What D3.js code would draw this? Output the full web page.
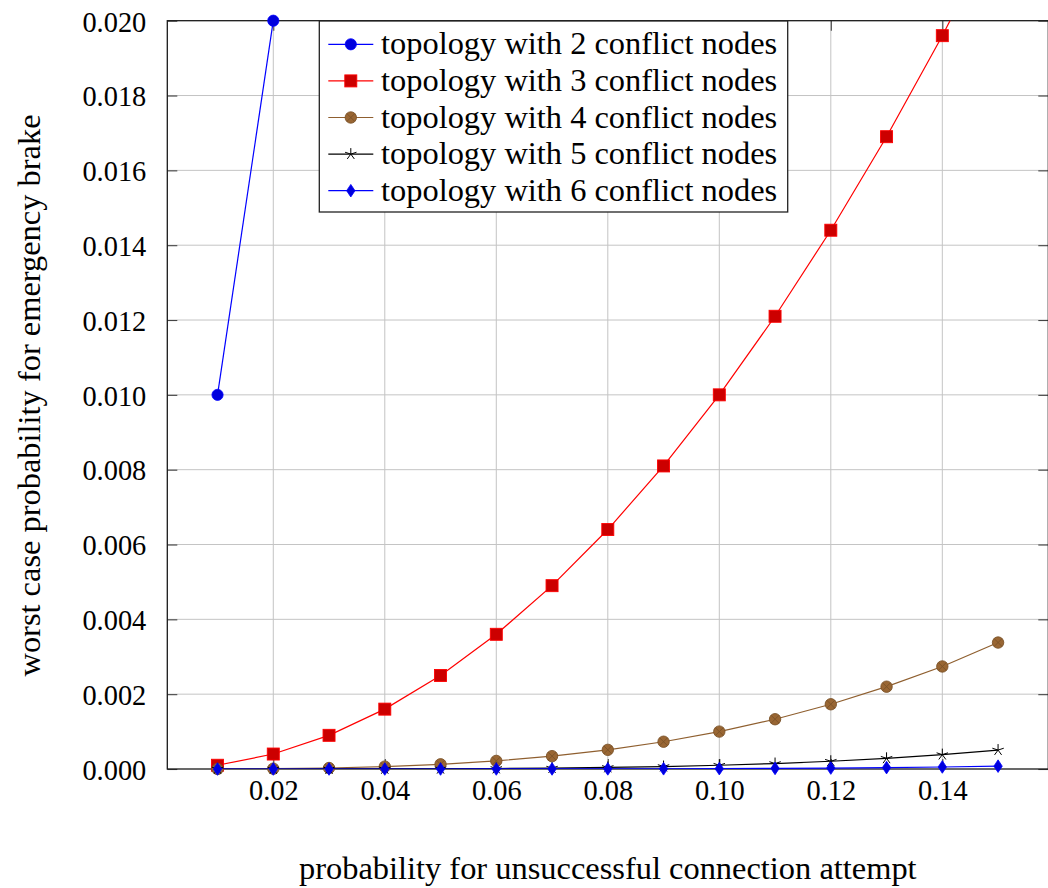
<!DOCTYPE html>
<html><head><meta charset="utf-8">
<script src="https://cdn.jsdelivr.net/npm/d3@7"></script>
<style>body{margin:0;background:#fff} svg{display:block} svg text{font-family:'Liberation Serif','Times New Roman',serif !important}</style>
</head><body>
<svg id="c" width="1048" height="888"></svg>
<script>
// ---- data ----
const xValues = [0.01,0.02,0.03,0.04,0.05,0.06,0.07,0.08,0.09,0.10,0.11,0.12,0.13,0.14,0.15];
const nodes2 = [0.010, 0.020];
const nodes3 = [0.0001,0.0004,0.0009,0.0016,0.0025,0.0036,0.0049,0.0064,0.0081,0.0100,0.0121,0.0144,0.0169,0.0196,0.0225];
const nodes4 = [0.000001,0.000008,0.000027,0.000064,0.000125,0.000216,0.000343,0.000512,0.000729,0.0010,0.00133,0.00173,0.00220,0.00274,0.00338];
const nodes5 = [0.00000001,0.00000016,0.00000081,0.0000026,0.0000063,0.000013,0.000024,0.000041,0.000066,0.00010,0.000146,0.000207,0.000286,0.000384,0.000506];
const nodes6 = [0.0000000001,0.0000000032,0.000000024,0.0000001,0.00000031,0.00000078,0.0000017,0.0000033,0.0000059,0.00001,0.000016,0.000025,0.000037,0.000054,0.000076];
const seriesNames = ["topology with 2 conflict nodes","topology with 3 conflict nodes","topology with 4 conflict nodes","topology with 5 conflict nodes","topology with 6 conflict nodes"];
const xTicks = [0.02,0.04,0.06,0.08,0.10,0.12,0.14];
const yTicks = [0,0.002,0.004,0.006,0.008,0.010,0.012,0.014,0.016,0.018,0.020];
const xDomain = [0.00099, 0.15901];
const yDomain = [0, 0.020];
const xLabel = "probability for unsuccessful connection attempt";
const yLabel = "worst case probability for emergency brake";

// ---- layout / style ----
const L = 167.3, R = 1048.3, T = 20.7, B = 769;
const FONT = "'Liberation Serif', 'Times New Roman', serif";
const styles = [
  {line:"#0000ff", fill:"#0000dd", stroke:"#0000ff", mark:"circle"},
  {line:"#ff0000", fill:"#cc0000", stroke:"#ff0000", mark:"square"},
  {line:"#8f5f2f", fill:"#996633", stroke:"#7a5228", mark:"otimes"},
  {line:"#000000", fill:"none", stroke:"#000000", mark:"star"},
  {line:"#0000ff", fill:"#0000dd", stroke:"#0000ff", mark:"diamond"}
];
const data = [nodes2,nodes3,nodes4,nodes5,nodes6].map(vals => vals.map((v,i)=>({x:xValues[i], y:v})));

const svg = d3.select("#c");
const x = d3.scaleLinear().domain(xDomain).range([L,R]);
const y = d3.scaleLinear().domain(yDomain).range([B,T]);

svg.append("defs").append("clipPath").attr("id","clip")
  .append("rect").attr("x",L).attr("y",T).attr("width",R-L).attr("height",B-T);

// grid
const grid = svg.append("g");
grid.selectAll(".gx").data(xTicks).join("line")
  .attr("x1",d=>x(d)).attr("x2",d=>x(d)).attr("y1",T).attr("y2",B)
  .attr("stroke","#c4c4c4").attr("stroke-width",1);
grid.selectAll(".gy").data(yTicks.filter(d=>d>0 && d<0.02)).join("line")
  .attr("x1",L).attr("x2",R).attr("y1",d=>y(d)).attr("y2",d=>y(d))
  .attr("stroke","#c4c4c4").attr("stroke-width",1);

// axes via d3 axis (inward ticks)
const tl = 10;
const axB = svg.append("g").attr("transform",`translate(0,${B})`)
  .call(d3.axisBottom(x).tickValues(xTicks).tickFormat(d3.format(".2f")).tickSize(-tl).tickPadding(tl+19));
const axT = svg.append("g").attr("transform",`translate(0,${T})`)
  .call(d3.axisTop(x).tickValues(xTicks).tickFormat("").tickSize(-tl));
const axL = svg.append("g").attr("transform",`translate(${L},0)`)
  .call(d3.axisLeft(y).tickValues(yTicks).tickFormat(d3.format(".3f")).tickSize(-tl).tickPadding(tl+11));
const axR = svg.append("g").attr("transform",`translate(${R},0)`)
  .call(d3.axisRight(y).tickValues(yTicks).tickFormat("").tickSize(-tl));
[axB,axT,axL,axR].forEach(a=>{
  a.attr("font-family",FONT).attr("font-size",28.4);
  a.select(".domain").remove();
  a.selectAll(".tick line").attr("stroke","#444").attr("stroke-width",1.1);
  a.selectAll("text").style("font-family",FONT).attr("font-size",28.4).attr("fill","#000");
});
axB.selectAll("text").attr("dy",null).attr("dominant-baseline","auto").attr("y", 800-B);
axL.selectAll("text").attr("dy",null).attr("dominant-baseline","auto").attr("y",10.3);

// frame
svg.append("rect").attr("x",L).attr("y",T).attr("width",R-L).attr("height",B-T)
  .attr("fill","none").attr("stroke","#1a1a1a").attr("stroke-width",1.3);

// marker drawing
function drawMark(g, type, st) {
  if (type==="circle") {
    g.append("circle").attr("r",5.6).attr("fill",st.fill).attr("stroke",st.stroke).attr("stroke-width",0.8);
  } else if (type==="square") {
    g.append("rect").attr("x",-6).attr("y",-6).attr("width",12).attr("height",12)
      .attr("fill",st.fill).attr("stroke",st.stroke).attr("stroke-width",0.9);
  } else if (type==="otimes") {
    g.append("circle").attr("r",5.7).attr("fill",st.fill).attr("stroke",st.stroke).attr("stroke-width",0.9);
    const a = 4.0;
    g.append("path").attr("d",`M${-a},${-a}L${a},${a}M${-a},${a}L${a},${-a}`)
      .attr("stroke",st.stroke).attr("stroke-width",0.9).attr("fill","none");
  } else if (type==="star") {
    const r = 6, pts = [];
    for (let k=0;k<5;k++){ const ang = -Math.PI/2 + k*2*Math.PI/5; pts.push(`M0,0L${(r*Math.cos(ang)).toFixed(2)},${(r*Math.sin(ang)).toFixed(2)}`); }
    g.append("path").attr("d",pts.join("")).attr("stroke",st.stroke).attr("stroke-width",1).attr("fill","none");
  } else if (type==="diamond") {
    g.append("path").attr("d","M0,-6.3L4.2,0L0,6.3L-4.2,0Z")
      .attr("fill",st.fill).attr("stroke",st.stroke).attr("stroke-width",0.8);
  }
}

// series
const line = d3.line().x(d=>x(d.x)).y(d=>y(d.y));
data.forEach((pts,i)=>{
  const st = styles[i];
  const g = svg.append("g");
  g.append("path").datum(pts).attr("d",line).attr("clip-path","url(#clip)")
    .attr("fill","none").attr("stroke",st.line).attr("stroke-width",1.2);
  pts.filter(p=>p.y<=yDomain[1]+1e-12).forEach(p=>{
    drawMark(g.append("g").attr("transform",`translate(${x(p.x)},${y(p.y)})`), st.mark, st);
  });
});

// labels
const xl = svg.append("text").attr("x",(L+R)/2).attr("y",879).attr("text-anchor","middle")
  .attr("font-family",FONT).attr("font-size",29).attr("fill","#000").text(xLabel);
const yl = svg.append("text").attr("transform","translate(40,395.5) rotate(-90)").attr("text-anchor","middle")
  .attr("font-family",FONT).attr("font-size",29).attr("fill","#000").text(yLabel);
// fit label size to the reference width
const w = xl.node().getComputedTextLength();
const fs = 29*618/w;
xl.attr("font-size",fs); yl.attr("font-size",fs);

// legend
const lg = svg.append("g");
lg.append("rect").attr("x",319.3).attr("y",21).attr("width",468.4).attr("height",191)
  .attr("fill","#fff").attr("stroke","#222").attr("stroke-width",1.3);
seriesNames.forEach((name,i)=>{
  const cy = 44.3 + i*36.6, st = styles[i];
  lg.append("line").attr("x1",328.3).attr("x2",373.3).attr("y1",cy).attr("y2",cy)
    .attr("stroke",st.line).attr("stroke-width",1.2);
  drawMark(lg.append("g").attr("transform",`translate(350.8,${cy})`), st.mark, st);
  lg.append("text").attr("x",381).attr("y",cy+10).attr("font-family",FONT).attr("font-size",fs)
    .attr("fill","#000").text(name);
});
</script>
</body></html>
